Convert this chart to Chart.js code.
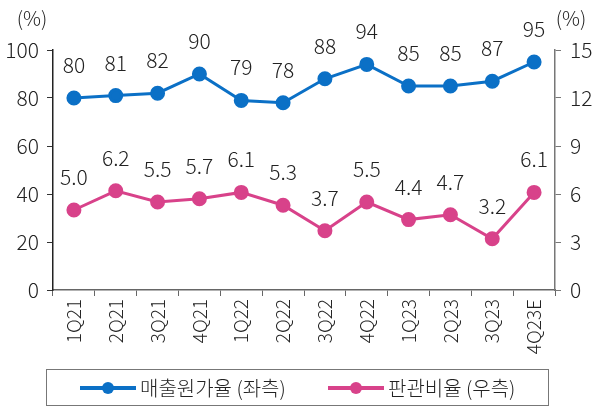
<!DOCTYPE html>
<html>
<head>
<meta charset="utf-8">
<script src="https://cdn.jsdelivr.net/npm/chart.js@4"></script>
<style>
  body { margin: 0; background: #fff; }
  #wrap { position: relative; width: 602px; height: 409px; }
  #legend {
    position: absolute; left: 46px; top: 369px; width: 501px; height: 35px;
    border: 1px solid #777; box-sizing: content-box;
    font-family: "Noto Sans CJK KR", sans-serif; font-weight: 300; font-size: 20px; color: #222;
  }
  .item { position: absolute; top: 0; height: 35px; display: flex; align-items: center; }
  .mark { position: relative; width: 56px; height: 12px; margin-right: 4px; }
  .mark .ln { position: absolute; left: 0; right: 0; top: 4px; height: 4px; }
  .mark .dt { position: absolute; left: 22px; top: 0; width: 12px; height: 12px; border-radius: 50%; }
</style>
</head>
<body>
<div id="wrap">
  <canvas id="c" width="602" height="409"></canvas>
  <div id="legend">
    <div class="item" style="left:33px"><div class="mark"><div class="ln" style="background:#0B70C6"></div><div class="dt" style="background:#0B70C6"></div></div>매출원가율 (좌측)</div>
    <div class="item" style="left:281px"><div class="mark"><div class="ln" style="background:#D8428A"></div><div class="dt" style="background:#D8428A"></div></div>판관비율 (우측)</div>
  </div>
</div>
<script>
const quarters = ['1Q21', '2Q21', '3Q21', '4Q21', '1Q22', '2Q22', '3Q22', '4Q22', '1Q23', '2Q23', '3Q23', '4Q23E'];
const costRatio = [80, 81, 82, 90, 79, 78, 88, 94, 85, 85, 87, 95];
const sgaRatio = [5.0, 6.2, 5.5, 5.7, 6.1, 5.3, 3.7, 5.5, 4.4, 4.7, 3.2, 6.1];

const blue = '#0B70C6';
const pink = '#D8428A';
const font = '"Noto Sans CJK KR", sans-serif';

// value labels above each point + the (%) unit labels
const labelPlugin = {
  id: 'labels',
  afterDatasetsDraw(chart) {
    const ctx = chart.ctx;
    ctx.save();
    ctx.fillStyle = '#222';
    ctx.font = '300 21px ' + font;
    ctx.textAlign = 'center';
    ctx.textBaseline = 'middle';
    chart.data.datasets.forEach((ds, i) => {
      chart.getDatasetMeta(i).data.forEach((pt, j) => {
        const v = ds.data[j];
        ctx.fillText(i === 0 ? String(v) : v.toFixed(1), pt.x, pt.y - 33);
      });
    });
    ctx.font = '300 20px ' + font;
    ctx.fillText('(%)', 32, 18);
    ctx.fillText('(%)', 571, 18);
    ctx.restore();
  }
};

new Chart(document.getElementById('c'), {
  type: 'line',
  data: {
    labels: quarters,
    datasets: [{
      data: costRatio,
      yAxisID: 'y',
      borderColor: blue,
      backgroundColor: blue,
      borderWidth: 3,
      pointRadius: 6,
      pointHoverRadius: 6,
    }, {
      data: sgaRatio,
      yAxisID: 'y1',
      borderColor: pink,
      backgroundColor: pink,
      borderWidth: 3,
      pointRadius: 6,
      pointHoverRadius: 6,
    }],
  },
  options: {
    responsive: false,
    animation: false,
    layout: { padding: { top: 50 } },
    plugins: { legend: { display: false }, tooltip: { enabled: false } },
    scales: {
      x: {
        offset: true,
        grid: { offset: true, drawOnChartArea: false, color: '#666', tickLength: 6 },
        border: { color: '#666', width: 1.5 },
        ticks: { color: '#222', font: { family: font, size: 19, weight: 300 }, minRotation: 90, maxRotation: 90, padding: 3 },
        afterFit: (s) => { s.height = 119; },
      },
      y: {
        position: 'left',
        min: 0, max: 100,
        grid: { drawOnChartArea: false, color: '#333', tickLength: 6 },
        border: { color: '#222', width: 1.5 },
        ticks: { stepSize: 20, color: '#222', font: { family: font, size: 21, weight: 300 }, padding: 8 },
        afterFit: (s) => { s.width = 53; },
      },
      y1: {
        position: 'right',
        min: 0, max: 15,
        grid: { drawOnChartArea: false, color: '#777', tickLength: 6 },
        border: { color: '#777', width: 1.5 },
        ticks: { stepSize: 3, color: '#222', font: { family: font, size: 21, weight: 300 }, padding: 9 },
        afterFit: (s) => { s.width = 47; },
      },
    },
  },
  plugins: [labelPlugin],
});
</script>
</body>
</html>
